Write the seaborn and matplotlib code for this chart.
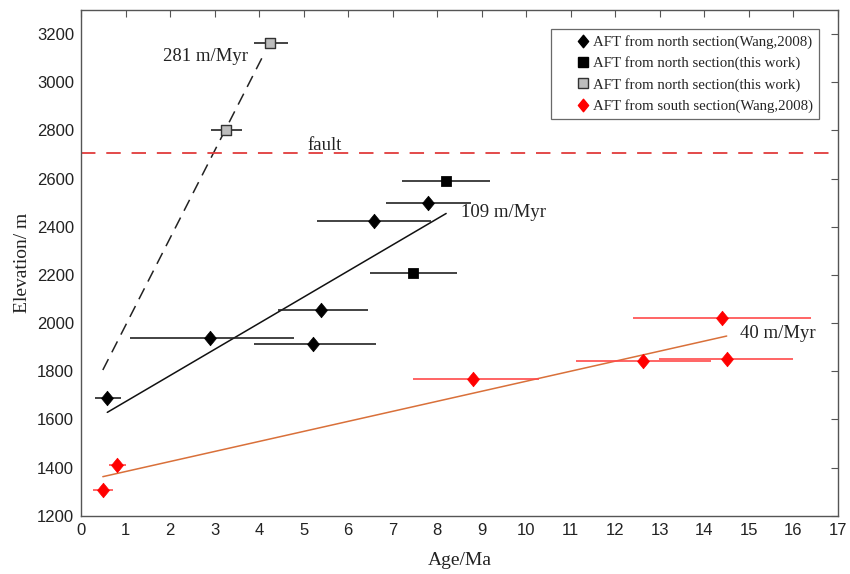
import numpy as np
import pandas as pd
import matplotlib
matplotlib.use("Agg")
import matplotlib.pyplot as plt
import seaborn as sns
from matplotlib.lines import Line2D
from matplotlib.path import Path

# AFT data, north section (Wang, 2008)
north_wang_age = [0.59, 2.89, 5.40, 5.20, 6.59, 7.80]
north_wang_elev = [1690, 1939, 2054, 1914, 2424, 2499]
north_wang_lo = [0.32, 1.11, 4.43, 3.89, 5.30, 6.85]
north_wang_hi = [0.89, 4.79, 6.44, 6.63, 7.87, 8.75]

# AFT north section, this work (black squares)
north_this_age = [8.20, 7.46]
north_this_elev = [2589, 2208]
north_this_lo = [7.20, 6.49]
north_this_hi = [9.19, 8.44]

# AFT north section, this work (gray squares, above fault)
north_gray_age = [3.25, 4.24]
north_gray_elev = [2803, 3163]
north_gray_lo = [2.93, 3.89]
north_gray_hi = [3.62, 4.64]

# AFT south section (Wang, 2008)
south_age = [0.49, 0.80, 8.80, 12.61, 14.50, 14.39]
south_elev = [1307, 1409, 1766, 1842, 1849, 2022]
south_lo = [0.27, 0.62, 7.46, 11.11, 12.97, 12.40]
south_hi = [0.72, 1.00, 10.29, 14.15, 16.00, 16.40]

# fitted trend lines (end points)
fit_281_x = [0.49, 4.13]
fit_281_y = [1805, 3125]
fit_109_x = [0.59, 8.20]
fit_109_y = [1629, 2455]
fit_40_x = [0.49, 14.50]
fit_40_y = [1362, 1946]
fault_elev = 2705

legend_labels = ["AFT from north section(Wang,2008)",
                 "AFT from north section(this work)",
                 "AFT from north section(this work)",
                 "AFT from south section(Wang,2008)"]

sns.set_theme(style="white")
plt.rcParams["font.family"] = ["Liberation Sans", "DejaVu Sans"]
serif = ["Liberation Serif", "DejaVu Serif"]

# matlab-like diamond, a bit taller than wide
diamond = Path([(0, 1), (0.82, 0), (0, -1), (-0.82, 0), (0, 1)],
               [Path.MOVETO, Path.LINETO, Path.LINETO, Path.LINETO, Path.CLOSEPOLY])

fig = plt.figure(figsize=(8.5, 5.74), dpi=100)
ax = fig.add_axes([0.0953, 0.1016, 0.8906, 0.881])


def draw_bars(age, elev, lo, hi, color):
    age = np.array(age)
    err = [age - np.array(lo), np.array(hi) - age]
    ax.errorbar(age, elev, xerr=err, fmt="none", ecolor=color,
                elinewidth=1.2, capsize=0, zorder=2)


draw_bars(north_wang_age, north_wang_elev, north_wang_lo, north_wang_hi, "#222222")
draw_bars(north_this_age, north_this_elev, north_this_lo, north_this_hi, "#222222")
draw_bars(north_gray_age, north_gray_elev, north_gray_lo, north_gray_hi, "#222222")
draw_bars(south_age, south_elev, south_lo, south_hi, "#ff4a4a")

# trend lines
sns.lineplot(x=fit_281_x, y=fit_281_y, ax=ax, color="#222222", lw=1.1,
             zorder=1).lines[-1].set_dashes([8, 5])
sns.lineplot(x=fit_109_x, y=fit_109_y, ax=ax, color="#111111", lw=1.1, zorder=1)
sns.lineplot(x=fit_40_x, y=fit_40_y, ax=ax, color="#d9703a", lw=1.1, zorder=1)
ax.axhline(fault_elev, color="#e03c3c", lw=1.3, dashes=[8, 6], zorder=1)

# markers
sns.scatterplot(x=north_wang_age, y=north_wang_elev, ax=ax, marker=diamond, s=110,
                color="black", edgecolor="black", linewidth=0.5, zorder=3)
sns.scatterplot(x=north_this_age, y=north_this_elev, ax=ax, marker="s", s=50,
                color="black", edgecolor="black", zorder=3)
sns.scatterplot(x=north_gray_age, y=north_gray_elev, ax=ax, marker="s", s=50,
                color="#bdbdbd", edgecolor="#333333", linewidth=1, zorder=3)
sns.scatterplot(x=south_age, y=south_elev, ax=ax, marker=diamond, s=110,
                color="red", edgecolor="red", linewidth=0.5, zorder=3)

# annotations
ax.text(1.84, 3107, "281 m/Myr", family=serif, fontsize=13.5, va="center", color="#222222")
ax.text(8.53, 2460, "109 m/Myr", family=serif, fontsize=13.5, va="center", color="#222222")
ax.text(14.80, 1958, "40 m/Myr", family=serif, fontsize=13.5, va="center", color="#222222")
ax.text(5.09, 2738, "fault", family=serif, fontsize=13.5, va="center", color="#222222")

ax.set_xlim(0, 17)
ax.set_ylim(1200, 3300)
ax.set_xticks(range(0, 18))
ax.set_yticks(range(1200, 3300, 200))
ax.tick_params(direction="in", length=5, width=0.8, colors="#555555",
               labelcolor="#222222", labelsize=12, top=True, right=True, pad=5)
for sp in ax.spines.values():
    sp.set_color("#555555")
    sp.set_linewidth(1.0)
ax.set_xlabel("Age/Ma", family=serif, fontsize=14, color="#222222", labelpad=10)
ax.set_ylabel("Elevation/ m", family=serif, fontsize=14, color="#222222", labelpad=4)

handles = [
    Line2D([], [], ls="none", marker=diamond, ms=9, color="black"),
    Line2D([], [], ls="none", marker="s", ms=7, color="black"),
    Line2D([], [], ls="none", marker="s", ms=7, markerfacecolor="#bdbdbd",
           markeredgecolor="#333333"),
    Line2D([], [], ls="none", marker=diamond, ms=9, color="red"),
]
leg = ax.legend(handles, legend_labels, loc="upper right",
                bbox_to_anchor=(0.975, 0.962), prop={"family": serif, "size": 10.7},
                frameon=True, fancybox=False, edgecolor="#444444",
                handletextpad=-1.05, handlelength=3.5, borderpad=0.4,
                labelspacing=0.5, borderaxespad=0)
leg.get_frame().set_linewidth(0.9)

fig.savefig("out.png", dpi=100)
